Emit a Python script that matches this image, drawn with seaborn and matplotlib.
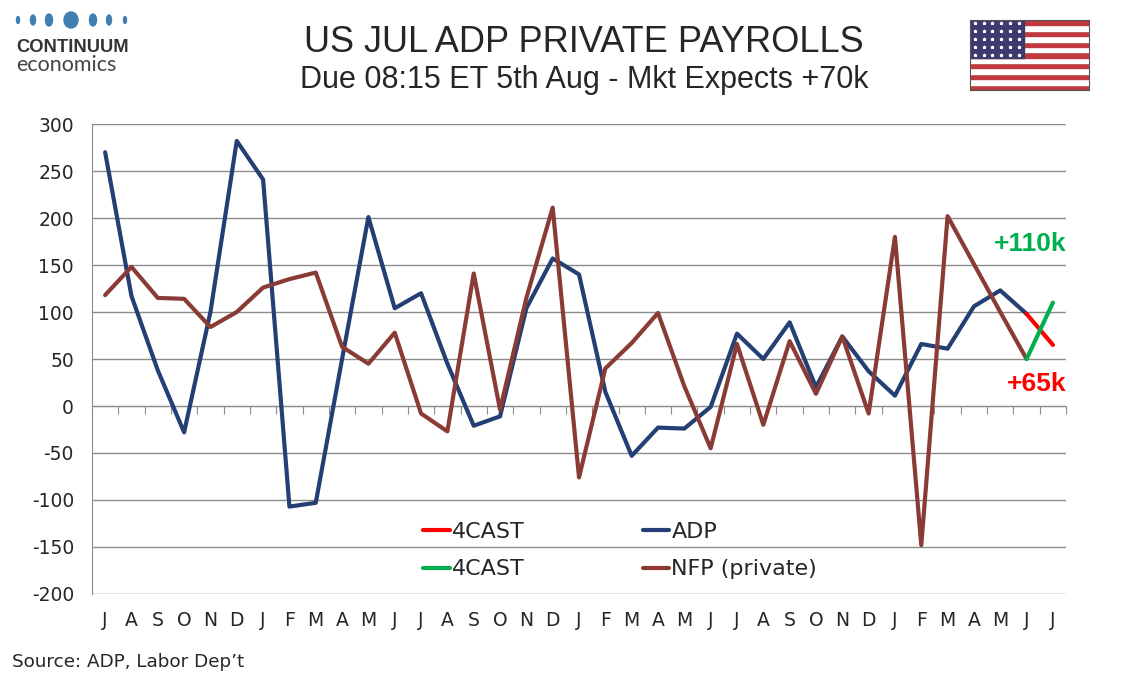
import matplotlib
matplotlib.use("Agg")
import matplotlib.pyplot as plt
from matplotlib.patches import Ellipse
import seaborn as sns
import numpy as np
import pandas as pd

# Data (Jul 2022 .. Jul 2025), thousands
months = ["J", "A", "S", "O", "N", "D", "J", "F", "M", "A", "M", "J",
          "J", "A", "S", "O", "N", "D", "J", "F", "M", "A", "M", "J",
          "J", "A", "S", "O", "N", "D", "J", "F", "M", "A", "M", "J", "J"]
adp = [270, 117, 38, -28, 100, 282, 241, -107, -103, 50, 201, 104,
       120, 45, -21, -11, 104, 157, 140, 15, -53, -23, -24, -1,
       77, 50, 89, 20, 74, 37, 11, 66, 61, 106, 123, 98, np.nan]
nfp = [118, 148, 115, 114, 84, 100, 126, 135, 142, 63, 45, 78,
       -8, -27, 141, -4, 115, 211, -76, 40, 67, 99, 21, -45,
       66, -20, 69, 13, 74, -8, 180, -148, 202, 151, 100, 50, np.nan]
fc_adp = [np.nan] * 35 + [98, 65]
fc_nfp = [np.nan] * 35 + [50, 110]

df = pd.DataFrame({"x": np.arange(len(months)), "adp": adp, "nfp": nfp,
                   "fc_adp": fc_adp, "fc_nfp": fc_nfp})

BLUE = "#243f73"
BROWN = "#8a3b35"
RED = "#ff0000"
GREEN = "#00b050"
GRID = "#8c8c8c"

sns.set_style("white")
plt.rcParams["font.family"] = ["DejaVu Sans"]
plt.rcParams["axes.unicode_minus"] = False

fig = plt.figure(figsize=(11.34, 6.8), dpi=100)
ax = fig.add_axes([0.0811, 0.1265, 0.859, 0.6911])

sns.lineplot(data=df, x="x", y="adp", color=BLUE, lw=3, ax=ax, label="ADP")
sns.lineplot(data=df, x="x", y="nfp", color=BROWN, lw=3, ax=ax, label="NFP (private)")
sns.lineplot(data=df, x="x", y="fc_adp", color=RED, lw=3, ax=ax, label="4CAST")
sns.lineplot(data=df, x="x", y="fc_nfp", color=GREEN, lw=3, ax=ax, label="4CAST")

ax.set_xlim(-0.5, len(months) - 0.5)
ax.set_ylim(-200, 300)
ax.set_yticks(np.arange(-200, 301, 50))
ax.set_xticks(np.arange(len(months)))
ax.set_xticklabels(months)
ax.set_xlabel("")
ax.set_ylabel("")
ax.yaxis.grid(True, color=GRID, lw=1)
ax.set_axisbelow(True)
for s in ["top", "right", "bottom"]:
    ax.spines[s].set_visible(False)
ax.spines["left"].set_color(GRID)
ax.tick_params(axis="y", length=7, color=GRID, labelsize=13.5, pad=6)
ax.tick_params(axis="x", length=0, labelsize=13.5, pad=12)

# zero axis with tick marks between categories
zero_ax = ax.secondary_xaxis(0.4)
zero_ax.set_xticks(np.arange(-0.5, len(months), 1))
zero_ax.tick_params(length=6, color=GRID, labelbottom=False)
zero_ax.spines["bottom"].set_color(GRID)

# legend: red/green 4CAST in first column, ADP/NFP in second
h, l = ax.get_legend_handles_labels()
order = [2, 3, 0, 1]
leg = ax.legend([h[i] for i in order], [l[i] for i in order], ncol=2,
                loc="upper left", bbox_to_anchor=(0.34, 0.154), frameon=False,
                fontsize=16, handlelength=1.2, handletextpad=0.1,
                columnspacing=5.3, labelspacing=0.8, borderpad=0,
                borderaxespad=0)

ax.text(36.5, 172, "+110k", color=GREEN, fontsize=19, fontweight="bold",
        ha="right", va="center", family=["Liberation Sans", "DejaVu Sans"])
ax.text(36.5, 23, "+65k", color=RED, fontsize=19, fontweight="bold",
        ha="right", va="center", family=["Liberation Sans", "DejaVu Sans"])

# titles
narrow = ["Liberation Sans", "DejaVu Sans"]
fig.text(0.515, 0.937, "US JUL ADP PRIVATE PAYROLLS", ha="center", va="center",
         fontsize=26, family=narrow)
fig.text(0.515, 0.883, "Due 08:15 ET 5th Aug - Mkt Expects +70k", ha="center",
         va="center", fontsize=22, family=narrow)
fig.text(0.011, 0.026, "Source: ADP, Labor Dep\u2019t", ha="left", va="center",
         fontsize=13.2)

# logo
dot_x = [18, 33, 49, 71, 93, 109, 125]
dot_w = [3, 5, 7, 14, 7, 5, 3]
dot_h = [7, 10, 12, 16, 12, 10, 7]
for xx, ww, hh in zip(dot_x, dot_w, dot_h):
    fig.add_artist(Ellipse((xx / 1134, 1 - 20 / 680), ww / 1134, hh / 680,
                           color="#3f7fb2", transform=fig.transFigure))
fig.text(0.0145, 0.93, "CONTINUUM", ha="left", va="center", fontsize=13.2,
         fontweight="bold", color="#333333", family=narrow)
fig.text(0.0145, 0.904, "economics", ha="left", va="center", fontsize=15.5,
         color="#444444", family=["Lato", "DejaVu Sans"])

# flag
fax = fig.add_axes([970 / 1134, 1 - 90 / 680, 119 / 1134, 70 / 680])
for k in range(13):
    fax.axhspan(k, k + 1, color="#bf3a3e" if k % 2 == 0 else "white")
fax.add_patch(plt.Rectangle((0, 6), 0.45, 7, color="#3c3b6e"))
sx, sy = np.meshgrid(np.linspace(0.04, 0.41, 6), np.linspace(6.5, 12.5, 5))
fax.scatter(sx.ravel(), sy.ravel(), s=3, color="white", marker="*")
fax.set_xlim(0, 1)
fax.set_ylim(0, 13)
fax.set_xticks([])
fax.set_yticks([])
for s in fax.spines.values():
    s.set_color("#555555")

fig.savefig("out.png", dpi=100)
